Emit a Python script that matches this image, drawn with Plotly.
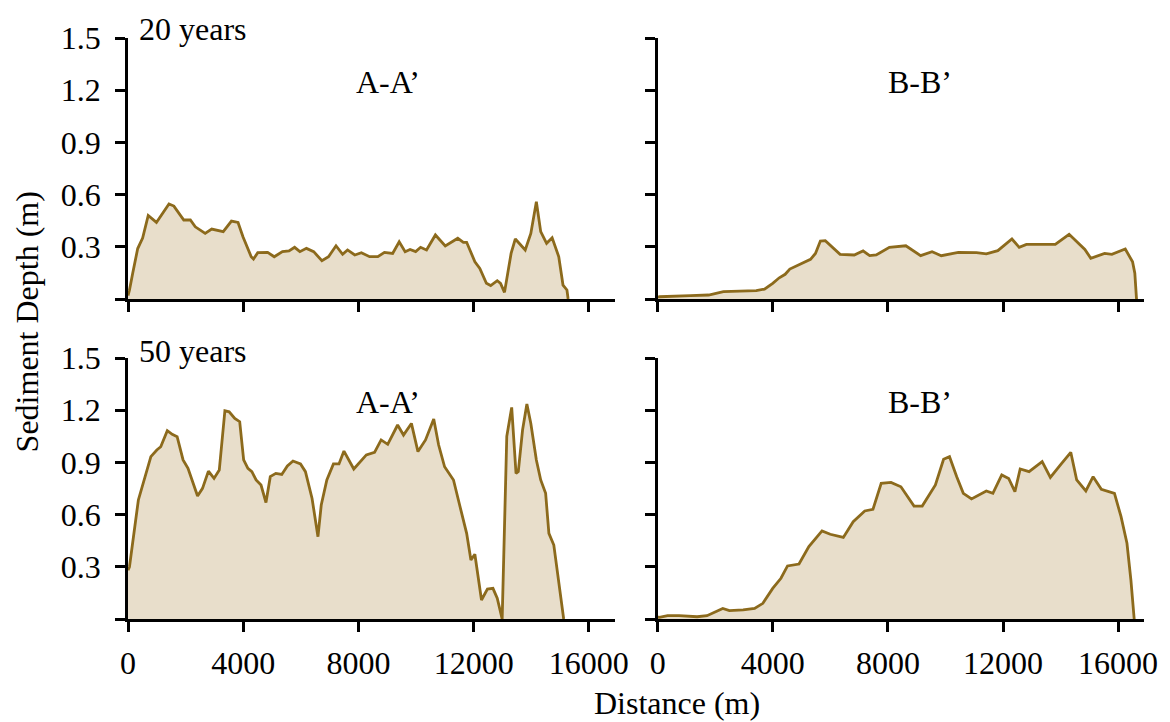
import plotly.graph_objects as go

# ---- data ----
a20_x = [0, 50, 165, 337, 508, 702, 987, 1422, 1593, 1936, 2165, 2336, 2679, 2906, 3306, 3591, 3820, 3991, 4277, 4357,
         4505, 4848, 5077, 5362, 5590, 5784, 5967, 6195, 6447, 6732, 6961, 7222, 7451, 7622, 7874, 8102, 8387, 8674,
         8902, 9188, 9415, 9621, 9792, 9987, 10158, 10364, 10672, 11015, 11449, 11643, 11757, 12043, 12214, 12443,
         12591, 12819, 12934, 13071, 13300, 13447, 13790, 13985, 14177, 14328, 14533, 14725, 14955, 15102, 15239, 15280]
a20_y = [0.02, 0.05, 0.15, 0.29, 0.35, 0.48, 0.44, 0.546, 0.534, 0.454, 0.454, 0.415, 0.377, 0.402, 0.387, 0.448, 0.44,
         0.358, 0.243, 0.23, 0.266, 0.268, 0.243, 0.272, 0.276, 0.297, 0.272, 0.291, 0.272, 0.22, 0.243, 0.306, 0.257,
         0.282, 0.253, 0.266, 0.243, 0.243, 0.268, 0.262, 0.329, 0.272, 0.285, 0.272, 0.297, 0.282, 0.368, 0.305, 0.349,
         0.326, 0.326, 0.214, 0.176, 0.09, 0.077, 0.105, 0.09, 0.038, 0.262, 0.345, 0.282, 0.377, 0.559, 0.387, 0.32,
         0.352, 0.243, 0.08, 0.052, 0.0]

b20_x = [0, 57, 1142, 1770, 2284, 3426, 3711, 3997, 4225, 4430, 4591, 4910, 5310, 5482, 5653, 5824, 6338, 6829, 7137,
         7366, 7594, 8051, 8623, 9137, 9535, 9855, 10449, 11078, 11420, 11820, 12049, 12310, 12563, 12814, 13818, 14297,
         14845, 15051, 15531, 15783, 16249, 16502, 16581, 16640]
b20_y = [0.01, 0.013, 0.019, 0.023, 0.042, 0.048, 0.057, 0.09, 0.122, 0.142, 0.172, 0.195, 0.228, 0.262, 0.333, 0.335,
         0.257, 0.253, 0.276, 0.249, 0.253, 0.297, 0.306, 0.249, 0.272, 0.249, 0.268, 0.266, 0.259, 0.278, 0.31, 0.345,
         0.297, 0.314, 0.314, 0.372, 0.285, 0.234, 0.262, 0.257, 0.287, 0.214, 0.148, 0.0]

a50_x = [0, 51, 360, 565, 794, 1000, 1137, 1364, 1535, 1706, 1912, 2083, 2415, 2587, 2792, 2987, 3169, 3364, 3512, 3707,
         3878, 4015, 4163, 4300, 4447, 4618, 4790, 4940, 5132, 5338, 5533, 5728, 5989, 6160, 6390, 6595, 6709, 6903,
         7132, 7325, 7497, 7839, 8274, 8559, 8788, 9017, 9360, 9565, 9839, 10066, 10329, 10614, 10785, 10991, 11300,
         11528, 11757, 11905, 12042, 12272, 12478, 12670, 12819, 12990, 13150, 13321, 13471, 13550, 13698, 13848, 13985,
         14177, 14328, 14499, 14612, 14783, 15126]
a50_y = [0.28, 0.30, 0.684, 0.808, 0.933, 0.971, 0.99, 1.082, 1.061, 1.048, 0.914, 0.866, 0.707, 0.751, 0.85, 0.808,
         0.856, 1.197, 1.191, 1.153, 1.134, 0.914, 0.866, 0.847, 0.799, 0.77, 0.669, 0.818, 0.837, 0.831, 0.879, 0.908,
         0.891, 0.847, 0.693, 0.473, 0.655, 0.799, 0.891, 0.891, 0.965, 0.862, 0.943, 0.958, 1.029, 1.004, 1.115, 1.057,
         1.124, 0.962, 1.029, 1.149, 1.0, 0.875, 0.799, 0.645, 0.492, 0.339, 0.372, 0.109, 0.172, 0.176, 0.119, 0.0,
         1.05, 1.216, 0.837, 0.847, 1.086, 1.236, 1.124, 0.914, 0.799, 0.722, 0.492, 0.425, 0.0]

b50_x = [0, 57, 343, 743, 1370, 1713, 2261, 2490, 2970, 3368, 3655, 3997, 4283, 4512, 4910, 5253, 5710, 5996, 6451,
         6794, 7195, 7480, 7767, 8109, 8452, 8908, 9193, 9651, 9935, 10141, 10392, 10621, 10906, 11420, 11649, 11957,
         12197, 12414, 12597, 12906, 13361, 13646, 13989, 14355, 14561, 14879, 15132, 15417, 15873, 16102, 16308,
         16445, 16559]
b50_y = [0.01, 0.01, 0.019, 0.019, 0.013, 0.019, 0.061, 0.048, 0.052, 0.061, 0.09, 0.176, 0.234, 0.305, 0.316, 0.416,
         0.506, 0.487, 0.469, 0.559, 0.621, 0.63, 0.78, 0.785, 0.76, 0.649, 0.649, 0.77, 0.918, 0.933, 0.818, 0.722,
         0.69, 0.736, 0.722, 0.828, 0.808, 0.732, 0.862, 0.847, 0.904, 0.814, 0.885, 0.958, 0.799, 0.736, 0.818, 0.745,
         0.722, 0.588, 0.435, 0.224, 0.0]

x_ticks = [0, 4000, 8000, 12000, 16000]
x_tick_labels = ["0", "4000", "8000", "12000", "16000"]
y_ticks = [0, 0.3, 0.6, 0.9, 1.2, 1.5]
y_tick_labels = ["", "0.3", "0.6", "0.9", "1.2", "1.5"]
section_labels = ["A-A\u2019", "B-B\u2019"]
period_labels = ["20 years", "50 years"]

LINE = "#8C6A1C"
FILL = "#E8DECB"
FONT = "Liberation Serif"
FS = 32

fig = go.Figure()
series = [(a20_x, a20_y, "x", "y"), (b20_x, b20_y, "x2", "y2"),
          (a50_x, a50_y, "x3", "y3"), (b50_x, b50_y, "x4", "y4")]
for xs, ys, xa, ya in series:
    fig.add_trace(go.Scatter(x=xs, y=ys, xaxis=xa, yaxis=ya, mode="lines", fill="tozeroy",
                             fillcolor=FILL, line=dict(color=LINE, width=2.8), showlegend=False,
                             hoverinfo="skip"))

L, R, T, B = 128, 12, 38, 103
W = 1170 - L - R
H = 722 - T - B

def px_x(p):
    return (p - L) / W

def px_y(p):
    return (722 - B - p) / H

left_dom = [0, px_x(621.5)]
right_dom = [px_x(665), 1]
top_dom = [px_y(299), 1]
bot_dom = [0, px_y(358)]

tf = dict(family=FONT, size=FS, color="black")

def xaxis(dom, anchor, labels):
    return dict(domain=dom, anchor=anchor, range=[0, 16900], showgrid=False, zeroline=False,
                showline=True, linecolor="black", linewidth=2.5, ticks="outside", ticklen=10,
                tickwidth=2.5, tickcolor="black", tickvals=x_ticks, ticktext=x_tick_labels,
                showticklabels=labels, ticklabelstandoff=4, tickfont=tf)

def yaxis(dom, anchor, labels):
    return dict(domain=dom, anchor=anchor, range=[0, 1.5], showgrid=False, zeroline=False,
                showline=True, linecolor="black", linewidth=2.5, ticks="outside", ticklen=10,
                tickwidth=2.5, tickcolor="black", tickvals=y_ticks, ticktext=y_tick_labels,
                showticklabels=labels, ticklabelstandoff=8, tickfont=tf)

fig.update_layout(
    width=1170, height=722,
    margin=dict(l=L, r=R, t=T, b=B),
    paper_bgcolor="white", plot_bgcolor="white",
    xaxis=xaxis(left_dom, "y", False), yaxis=yaxis(top_dom, "x", True),
    xaxis2=xaxis(right_dom, "y2", False), yaxis2=yaxis(top_dom, "x2", False),
    xaxis3=xaxis(left_dom, "y3", True), yaxis3=yaxis(bot_dom, "x3", True),
    xaxis4=xaxis(right_dom, "y4", True), yaxis4=yaxis(bot_dom, "x4", False),
)

ann = []
for xr, yr, xv, txt in [("x", "y", 9030, section_labels[0]), ("x2", "y2", 9110, section_labels[1]),
                        ("x3", "y3", 9030, section_labels[0]), ("x4", "y4", 9110, section_labels[1])]:
    ann.append(dict(x=xv, y=1.247, xref=xr, yref=yr, text=txt, showarrow=False, font=tf,
                    xanchor="center", yanchor="middle"))
ann.append(dict(x=px_x(137), y=px_y(29), xref="paper", yref="paper", text=period_labels[0],
                showarrow=False, font=tf, xanchor="left", yanchor="middle"))
ann.append(dict(x=px_x(137), y=px_y(351), xref="paper", yref="paper", text=period_labels[1],
                showarrow=False, font=tf, xanchor="left", yanchor="middle"))
ann.append(dict(x=px_x(685), y=px_y(703), xref="paper", yref="paper", text="Distance (m)",
                showarrow=False, font=tf, xanchor="center", yanchor="middle"))
ann.append(dict(x=px_x(26), y=px_y(322), xref="paper", yref="paper", text="Sediment Depth (m)",
                textangle=-90, showarrow=False, font=tf, xanchor="center", yanchor="middle"))
fig.update_layout(annotations=ann)

fig.write_html("out.html")
